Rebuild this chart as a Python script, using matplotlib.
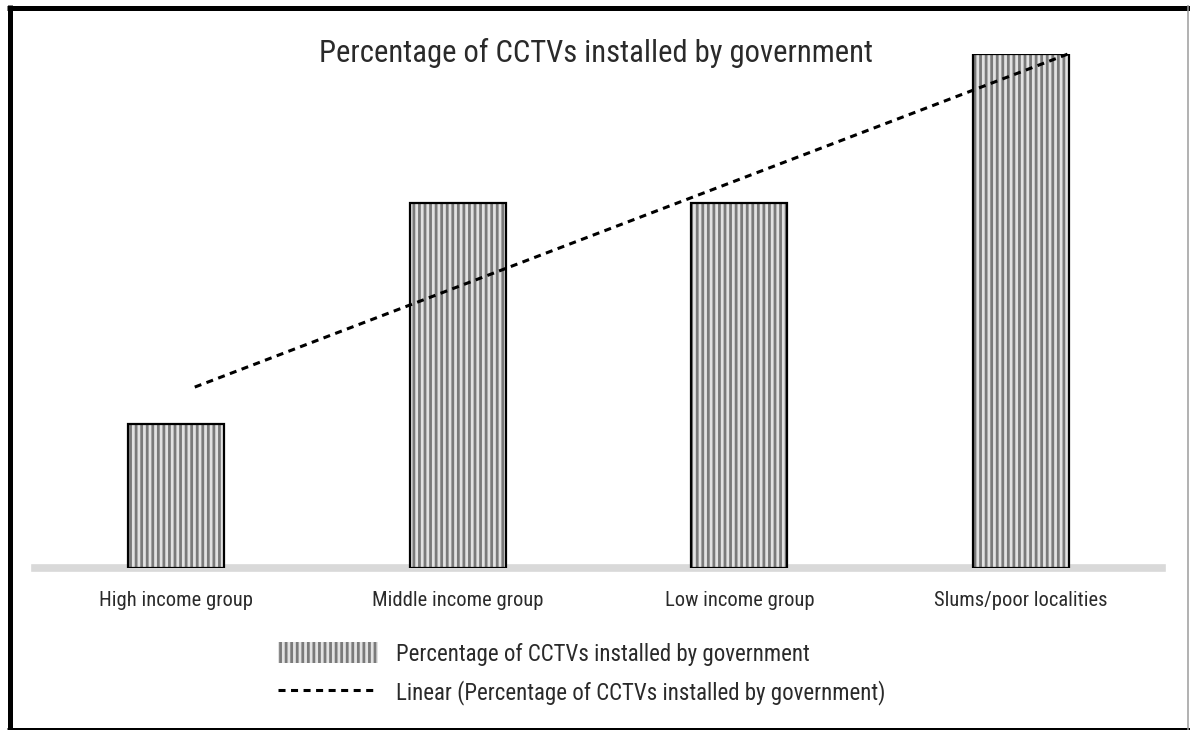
import numpy as np
import matplotlib
matplotlib.use("Agg")
import matplotlib.pyplot as plt
from matplotlib.lines import Line2D
from matplotlib import font_manager

# Data
categories = ["High income group", "Middle income group", "Low income group", "Slums/poor localities"]
values = [28, 71, 71, 100]
series_label = "Percentage of CCTVs installed by government"
trend_label = "Linear (Percentage of CCTVs installed by government)"
title = "Percentage of CCTVs installed by government"

# pick a narrow sans face if one is installed
installed = {f.name for f in font_manager.fontManager.ttflist}
narrow_stretch = {f.name for f in font_manager.fontManager.ttflist
                  if str(f.stretch) in ("condensed", "semi-condensed", "extra-condensed")}
family = "DejaVu Sans"
stretch = "normal"
for cand in ["Liberation Sans Narrow", "Roboto Condensed", "Open Sans Condensed",
             "Noto Sans Condensed", "Arial Narrow"]:
    if cand in installed:
        family = cand
        break
else:
    for cand in ["Roboto", "Noto Sans", "Open Sans", "DejaVu Sans"]:
        if cand in narrow_stretch:
            family, stretch = cand, "condensed"
            break

plt.rcParams["font.family"] = [family, "DejaVu Sans"]
plt.rcParams["font.stretch"] = stretch
plt.rcParams["hatch.linewidth"] = 2.0
text_color = "#2a2a2a"

W, H = 1190, 730
fig = plt.figure(figsize=(W / 100, H / 100), dpi=100)
fig.patch.set_facecolor("white")

# plot area: baseline at 567.5 px from top, top of scale at 53.5 px
ax_left, ax_right = 35, 1162
ax_bottom, ax_top = 567.5, 53.5
ax = fig.add_axes([ax_left / W, (H - ax_bottom) / H,
                   (ax_right - ax_left) / W, (ax_bottom - ax_top) / H])
ax.set_xlim(-0.5, 3.5)
ax.set_ylim(0, 100)
ax.axis("off")

x = np.arange(len(categories))

# gray category axis line
ax.axhline(0, color="#d9d9d9", lw=5.5, zorder=1, clip_on=False)

# striped bars: hatch layer, then black outline
bars = ax.bar(x, values, width=0.34, facecolor="#e2e2e2", edgecolor="#7a7a7a",
              hatch="|||", linewidth=0, zorder=2, label=series_label)
ax.bar(x, values, width=0.34, facecolor="none", edgecolor="black",
       linewidth=1.6, zorder=3)

# linear trendline
coef = np.polyfit(x + 1, values, 1)
trend = np.polyval(coef, np.array([1, 4]))
trend_x = [0.067, 3.166]
tl, = ax.plot(trend_x, trend, color="black", lw=2.2, ls=(0, (2.3, 1.8)),
              zorder=4, clip_on=False, label=trend_label)

# category labels
label_y = -(600 - ax_bottom) / (ax_bottom - ax_top) * 100
cat_texts = [ax.text(xi, label_y, cat, ha="center", va="center",
                     fontsize=16, color=text_color)
             for xi, cat in zip(x, categories)]

# title
title_text = fig.text(596 / W, 1 - 53 / H, title, ha="center", va="center",
                      fontsize=23, color=text_color)

# legend
fs = 17
leg = ax.legend(handles=[bars, tl], labels=[series_label, trend_label],
                loc="upper left", bbox_to_anchor=(278 / W, 1 - 642 / H),
                bbox_transform=fig.transFigure, frameon=False, fontsize=fs,
                handlelength=100 / (fs * 100 / 72), handleheight=1.0,
                handletextpad=18 / (fs * 100 / 72), labelspacing=0.6,
                borderpad=0, borderaxespad=0)
for t in leg.get_texts():
    t.set_color(text_color)


def fit_size(texts, target_px, max_size):
    """Scale font size so the first text spans target_px, capped at max_size."""
    renderer = fig.canvas.get_renderer()
    w = texts[0].get_window_extent(renderer).width
    size = min(texts[0].get_fontsize() * target_px / w, max_size)
    for t in texts:
        t.set_fontsize(size)
    return size


fit_size([title_text], 555, 24)
fit_size(cat_texts, 153, 16.5)
fit_size(list(leg.get_texts()), 414, 18)

# outer frame
def frame_line(x0, y0, x1, y1, color, lw_px):
    fig.add_artist(Line2D([x0 / W, x1 / W], [1 - y0 / H, 1 - y1 / H],
                          transform=fig.transFigure, color=color,
                          lw=lw_px * 0.72, solid_capstyle="butt"))

frame_line(9.5, 5, 9.5, 730, "black", 5)
frame_line(7, 7.5, 1190, 7.5, "black", 5)
frame_line(7, 728.5, 1190, 728.5, "black", 3)
frame_line(1187.5, 5, 1187.5, 730, "#9a9a9a", 1.5)

fig.savefig("out.png", dpi=100, facecolor="white")
